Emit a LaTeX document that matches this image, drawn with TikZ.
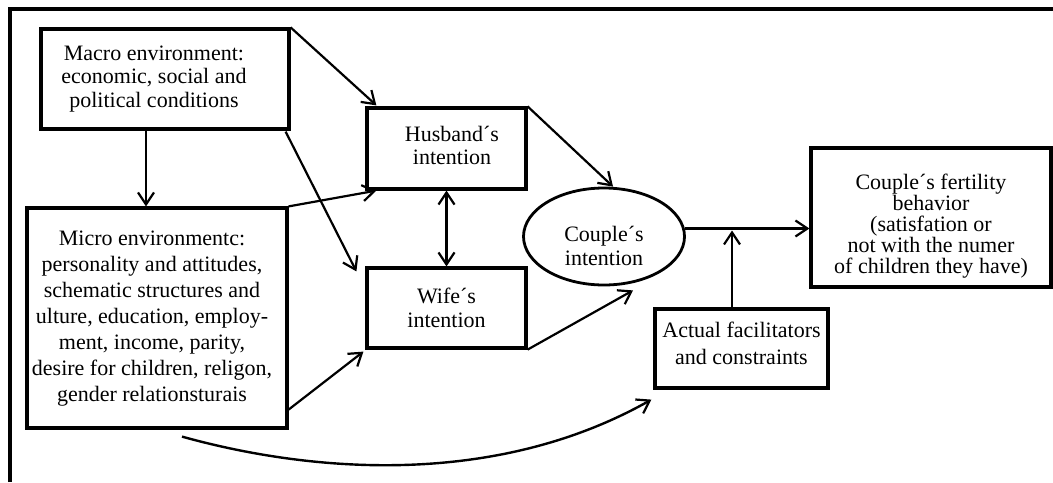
\documentclass[tikz,border=0pt]{standalone}
\usepackage{fontspec}
\setmainfont{Liberation Serif}
\usetikzlibrary{arrows.meta,shapes.geometric,calc}
\begin{document}
\begin{tikzpicture}[x=0.5pt,y=-0.5pt,
  box/.style={draw, line width=1.6pt, align=center, inner sep=1pt},
  tip/.tip={Straight Barb[length=6pt,width=8pt,line width=1.1pt]},
  arr/.style={line width=1.1pt, -tip},
  txt/.style={font=\fontsize{11}{#1}\selectfont}]
\useasboundingbox (0,0) rectangle (1053,482);
\draw[line width=1.6pt] (10,482) -- (10,9) -- (1053,9);

\node[box, txt=11.7, minimum width=124pt, minimum height=50pt] (macro) at (165,79)
  {\begin{tabular}{@{}c@{\hspace{11pt}}}Macro environment:\\ economic, social and\\ political conditions\end{tabular}};
\node[box, txt=13, minimum width=130pt, minimum height=110pt] (micro) at (157,318)
  {\begin{tabular}{@{}c@{\hspace{5pt}}}Micro environmentc:\\ personality and attitudes,\\ schematic structures and\\ ulture, education, employ-\\ ment, income, parity,\\ desire for children, religon,\\ gender relationsturais\end{tabular}};
\node[box, txt=11.7, minimum width=79.5pt, minimum height=40.5pt] (hus) at (446.5,148.5)
  {\begin{tabular}{@{\hspace{5.5pt}}c@{}}Husband´s\\ intention\end{tabular}};
\node[box, txt=11.7, minimum width=79.5pt, minimum height=40pt] (wife) at (446.5,308)
  {Wife´s\\ intention};
\node[draw, ellipse, line width=1.4pt, align=center, inner sep=0pt, txt=11.7,
  minimum width=80.5pt, minimum height=48.5pt] (couple) at (604,236.5)
  {\rule{0pt}{17pt}Couple´s\\ intention};
\node[box, txt=13.5, minimum width=86.5pt, minimum height=39.5pt] (actual) at (741.5,348.5)
  {Actual facilitators\\ and constraints\rule[-5pt]{0pt}{0pt}};
\node[box, txt=10.5, minimum width=120pt, minimum height=69.5pt] (fert) at (931,217.5)
  {\rule{0pt}{16.5pt}Couple´s fertility\\ behavior\\ (satisfation or\\ not with the numer\\ of children they have)};

\draw[arr] (macro.north east) -- ([shift={(11,-1)}]hus.north west);
\draw[arr] ([shift={(-5,1)}]macro.south east) -- ([shift={(-9,5)}]wife.north west);
\draw[arr] ([shift={(-19,0)}]macro.south) -- ([shift={(-11,0)}]micro.north);
\draw[arr] (micro.north east) -- ([shift={(11,0)}]hus.south west);
\draw[arr] ([shift={(0,-20)}]micro.south east) -- ([shift={(-2,2)}]wife.south west);
\draw[line width=1.6pt, tip-tip] (hus.south) -- (wife.north);
\draw[arr] (hus.north east) -- ([shift={(9,0)}]couple.north);
\draw[arr] (wife.south east) -- ([shift={(29,4)}]couple.south);
\coordinate (j) at ([shift={(-1,-8)}]couple.east);
\draw[arr] (j) -- (j -| fert.west);
\coordinate (ak) at ([shift={(-9.5,0)}]actual.north);
\draw[arr, shorten >=1pt] (ak) -- (ak |- j);
\coordinate (cs) at ([shift={(25,7)}]micro.south);
\coordinate (ce) at ([shift={(-2,10)}]actual.south west);
\draw[arr, line width=1.2pt] (cs) .. controls (320,475) and (500,485) .. (ce);
\end{tikzpicture}
\end{document}
